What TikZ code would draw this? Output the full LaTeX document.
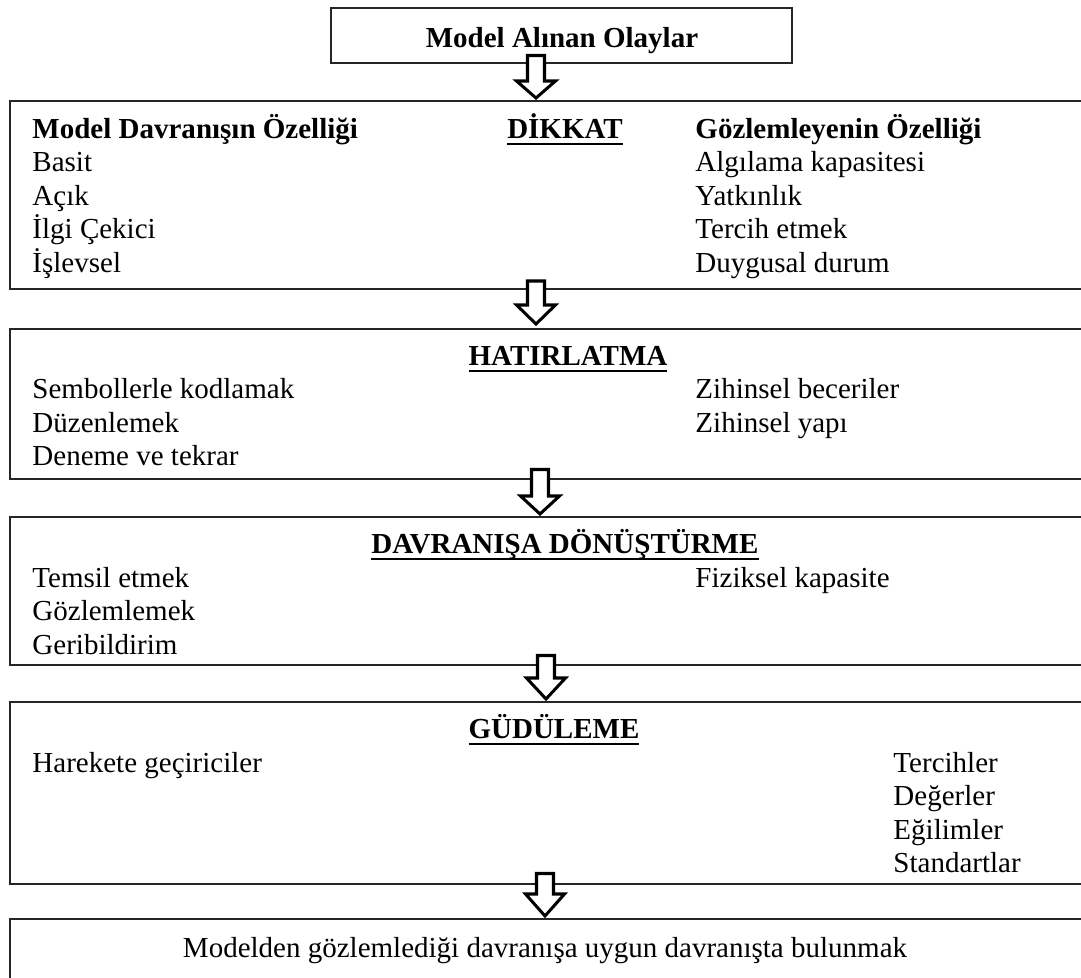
\documentclass[tikz,border=0pt]{standalone}
\usepackage{fontspec}
\setmainfont{Liberation Serif}
\newcommand{\myul}[1]{\setbox0=\hbox{#1}\rlap{\rule[-2.8pt]{\wd0}{0.9pt}}\box0}
\newcommand{\blockarr}[4]{% cx, top, headstart, tip
  \draw[blockarrow] ({#1-8.5},#2) -- ({#1+8.5},#2) -- ({#1+8.5},#3) -- ({#1+19.5},#3) -- (#1,#4) -- ({#1-19.5},#3) -- ({#1-8.5},#3) -- cycle;}
\tikzset{
  box/.style={draw=black!85, line width=0.75pt},
  blockarrow/.style={draw=black, fill=white, line width=1.25pt, line join=miter},
  txt/.style={anchor=base west, inner sep=0pt, font=\fontsize{12pt}{14pt}\selectfont},
  hdr/.style={anchor=base, inner sep=0pt, font=\fontsize{12pt}{14pt}\selectfont\bfseries},
  ctr/.style={anchor=base, inner sep=0pt, font=\fontsize{12pt}{14pt}\selectfont}
}
\begin{document}
\begin{tikzpicture}[x=0.41375pt, y=-0.41375pt]
\clip (0,0) rectangle (1081,978);
\fill[white] (0,0) rectangle (1081,978);
% boxes
\draw[box] (331,8) rectangle (792,63);
\draw[box] (10,101) rectangle (1095,289);
\draw[box] (10,329) rectangle (1095,479);
\draw[box] (10,517) rectangle (1095,665);
\draw[box] (10,702) rectangle (1095,884);
\draw[box] (10,919) rectangle (1095,995);
% box 0
\node[hdr] (t0) at (562,47.5) {Model Alınan Olaylar};
% box 1
\node[txt, font=\fontsize{12pt}{14pt}\selectfont\bfseries] (l1a) at (32,138.5) {Model Davranışın Özelliği};
\node[hdr] (h1) at (565,138.5) {\myul{DİKKAT}};
\node[txt, font=\fontsize{12pt}{14pt}\selectfont\bfseries] (r1a) at (695,138.5) {Gözlemleyenin Özelliği};
\node[txt] (l1b) at (32,172) {Basit};
\node[txt] (l1c) at (32,205.5) {Açık};
\node[txt] (l1d) at (32,239) {İlgi Çekici};
\node[txt] (l1e) at (32,272.5) {İşlevsel};
\node[txt] (r1b) at (695,172) {Algılama kapasitesi};
\node[txt] (r1c) at (695,205.5) {Yatkınlık};
\node[txt] (r1d) at (695,239) {Tercih etmek};
\node[txt] (r1e) at (695,272.5) {Duygusal durum};
% box 2
\node[hdr] (h2) at (568,365.5) {\myul{HATIRLATMA}};
\node[txt] (l2a) at (32,399) {Sembollerle kodlamak};
\node[txt] (l2b) at (32,432.5) {Düzenlemek};
\node[txt] (l2c) at (32,466) {Deneme ve tekrar};
\node[txt] (r2a) at (695,399) {Zihinsel beceriler};
\node[txt] (r2b) at (695,432.5) {Zihinsel yapı};
% box 3
\node[hdr] (h3) at (565,553.5) {\myul{DAVRANIŞA DÖNÜŞTÜRME}};
\node[txt] (l3a) at (32,587) {Temsil etmek};
\node[txt] (l3b) at (32,620.5) {Gözlemlemek};
\node[txt] (l3c) at (32,654) {Geribildirim};
\node[txt] (r3a) at (695,587) {Fiziksel kapasite};
% box 4
\node[hdr] (h4) at (554,738.5) {\myul{GÜDÜLEME}};
\node[txt] (l4a) at (32,772) {Harekete geçiriciler};
\node[txt] (r4a) at (893,772) {Tercihler};
\node[txt] (r4b) at (893,805.5) {Değerler};
\node[txt] (r4c) at (893,839) {Eğilimler};
\node[txt] (r4d) at (893,872.5) {Standartlar};
% box 5
\node[ctr] (t5) at (545,957.5) {Modelden gözlemlediği davranışa uygun davranışta bulunmak};
% arrows
\blockarr{536}{55.5}{81}{98}
\blockarr{536}{281}{305}{324}
\blockarr{540}{469.5}{496}{514}
\blockarr{546}{655.5}{678}{699}
\blockarr{545}{873.5}{894}{916}
\end{tikzpicture}
\end{document}
